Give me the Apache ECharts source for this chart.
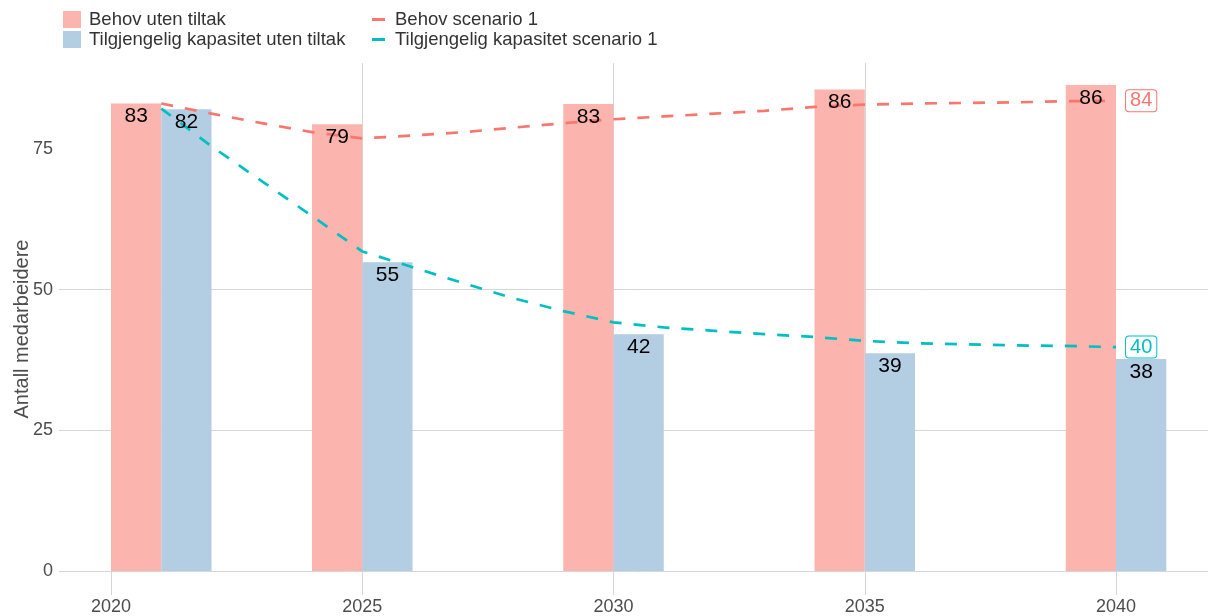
<!DOCTYPE html>
<html><head><meta charset="utf-8">
<script src="https://cdn.jsdelivr.net/npm/echarts@6/dist/echarts.min.js"></script>
<style>html,body{margin:0;padding:0;background:#fff}#c{width:1208px;height:616px}</style>
</head><body><div id="c"></div>
<script>
// ---- data ----
const groupYears = [2021, 2025, 2030, 2035, 2040];
const behovUtenTiltak = [83.1, 79.4, 83.0, 85.6, 86.4];
const kapasitetUtenTiltak = [82.1, 54.9, 42.1, 38.7, 37.7];
const lineYears = [2021, 2022, 2023, 2024, 2025, 2026, 2027, 2028, 2029, 2030,
                   2031, 2032, 2033, 2034, 2035, 2036, 2037, 2038, 2039, 2040];
const behovScenario1 = [83.1, 81.3, 79.6, 78.0, 76.9, 77.4, 78.0, 78.8, 79.6, 80.3,
                        80.8, 81.3, 81.8, 82.5, 82.9, 83.1, 83.2, 83.3, 83.5, 83.6];
const kapasitetScenario1 = [82.2, 75.5, 69.3, 63.1, 56.8, 54.0, 51.2, 48.5, 46.2, 44.2,
                            43.3, 42.7, 42.1, 41.6, 40.9, 40.5, 40.3, 40.1, 40.0, 39.8];
const xTicks = [2020, 2025, 2030, 2035, 2040];
const yTicks = [0, 25, 50, 75];
const names = ['Behov uten tiltak', 'Tilgjengelig kapasitet uten tiltak', 'Behov scenario 1', 'Tilgjengelig kapasitet scenario 1'];

const FONT = '"Liberation Sans", Arial, sans-serif';
const GRID = '#d6d6d6';
const PINK = '#FBB4AE', BLUE = '#B3CDE3', RED = '#F8766D', TEAL = '#00BFC4';

const pinkData = groupYears.map((y, i) => [y - 0.5, behovUtenTiltak[i]]);
const blueData = groupYears.map((y, i) => [y + 0.5, kapasitetUtenTiltak[i]]);
const labelData = pinkData.concat(blueData);

function barItem(params, api) {
  const x = api.value(0), v = api.value(1);
  const p0 = api.coord([x - 0.5, v]);
  const p1 = api.coord([x + 0.5, 0]);
  return { type: 'rect', shape: { x: p0[0], y: p0[1], width: p1[0] - p0[0], height: p1[1] - p0[1] },
           style: { fill: api.visual('color') } };
}
function labelItem(params, api) {
  const x = api.value(0), v = api.value(1);
  const p = api.coord([x, v]);
  return { type: 'text', x: p[0], y: p[1] + 13,
           style: { text: String(Math.round(v)), fill: '#000', font: '21px ' + FONT, align: 'center', verticalAlign: 'middle' } };
}
function endLabel(color) {
  return { show: true, distance: 10, color: color, fontSize: 20, fontFamily: FONT,
           backgroundColor: '#fff', borderColor: color, borderWidth: 1, borderRadius: 3, padding: [1, 4, 0, 4],
           formatter: p => String(Math.round(p.value[1])) };
}

const chart = echarts.init(document.getElementById('c'));
chart.setOption({
  animation: false,
  backgroundColor: '#fff',
  textStyle: { fontFamily: FONT },
  grid: { left: 59, right: 0, top: 63, bottom: 45, containLabel: false, outerBoundsMode: 'none' },
  legend: [
    { left: 63, top: 10, orient: 'vertical', itemWidth: 18, itemHeight: 17, itemGap: 1, padding: 0,
      data: [{ name: names[0], icon: 'rect' }, { name: names[1], icon: 'rect' }],
      textStyle: { fontSize: 18.5, color: '#333', fontFamily: FONT, padding: [0, 0, 0, 3] } },
    { left: 372, top: 10, orient: 'vertical', itemWidth: 13, itemHeight: 3, itemGap: 1, padding: 0,
      data: [{ name: names[2], icon: 'rect' }, { name: names[3], icon: 'rect' }],
      textStyle: { fontSize: 18.5, color: '#333', fontFamily: FONT, padding: [0, 0, 0, 5] } }
  ],
  xAxis: {
    type: 'value', min: 2018.965, max: 2041.83,
    axisLine: { show: false },
    axisTick: { show: true, length: 24, lineStyle: { color: GRID }, customValues: xTicks },
    axisLabel: { color: '#4d4d4d', fontSize: 18, margin: 27, fontFamily: FONT, customValues: xTicks,
                 formatter: v => String(v) },
    splitLine: { show: true, lineStyle: { color: GRID }, showMinLine: false, showMaxLine: false }
  },
  yAxis: {
    type: 'value', min: 0, max: 90.3,
    name: 'Antall medarbeidere', nameLocation: 'middle', nameRotate: 90, nameGap: 27, nameMoveOverlap: false,
    nameTextStyle: { fontSize: 20, color: '#4d4d4d', fontFamily: FONT, padding: [0, 24, 0, 0] },
    axisLine: { show: false }, axisTick: { show: false, customValues: yTicks },
    axisLabel: { color: '#4d4d4d', fontSize: 18, margin: 6, fontFamily: FONT, customValues: yTicks },
    splitLine: { show: true, lineStyle: { color: GRID }, showMaxLine: false }
  },
  series: [
    { name: names[0], type: 'custom', renderItem: barItem, data: pinkData, itemStyle: { color: PINK },
      encode: { x: 0, y: 1 }, z: 1 },
    { name: names[1], type: 'custom', renderItem: barItem, data: blueData, itemStyle: { color: BLUE },
      encode: { x: 0, y: 1 }, z: 1 },
    { name: names[2], type: 'line', data: lineYears.map((y, i) => [y, behovScenario1[i]]),
      showSymbol: false, color: RED, itemStyle: { color: RED },
      lineStyle: { color: RED, width: 2.7, type: [12, 12] }, endLabel: endLabel(RED), z: 3 },
    { name: names[3], type: 'line', data: lineYears.map((y, i) => [y, kapasitetScenario1[i]]),
      showSymbol: false, color: TEAL, itemStyle: { color: TEAL },
      lineStyle: { color: TEAL, width: 2.7, type: [12, 12] }, endLabel: endLabel(TEAL), z: 3 },
    { name: 'labels', type: 'custom', renderItem: labelItem, data: labelData, encode: { x: 0, y: 1 }, z: 5,
      silent: true }
  ]
});
</script></body></html>
